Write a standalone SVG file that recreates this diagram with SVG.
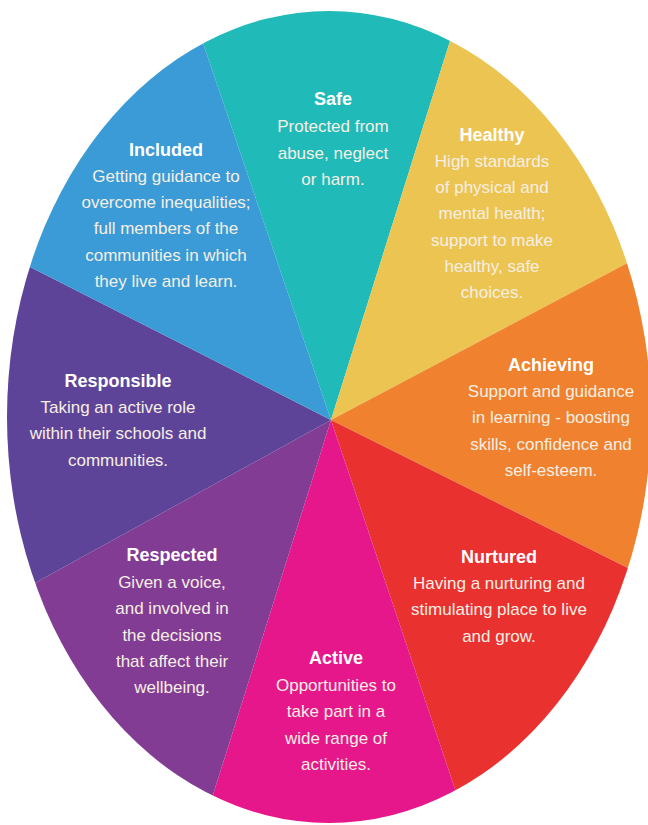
<svg xmlns="http://www.w3.org/2000/svg" width="648" height="825" viewBox="0 0 648 825">
<defs>
<clipPath id="wheel"><ellipse cx="329" cy="417" rx="322" ry="406"/></clipPath>
<style>
text{font-family:"Liberation Sans",Arial,sans-serif;text-anchor:middle}
.t{font-size:18px;font-weight:bold;fill:#ffffff}
.b{font-size:17px;fill:#f6efe4}
</style>
</defs>
<rect x="0" y="0" width="648" height="825" fill="#ffffff"/>
<g id="segments" clip-path="url(#wheel)">
<polygon id="seg-safe" points="331,420 75,-334 569,-338" fill="#20bab8"/>
<polygon id="seg-healthy" points="331,420 569,-338 943,96" fill="#ecc452"/>
<polygon id="seg-achieving" points="331,420 943,96 933,720" fill="#f0812e"/>
<polygon id="seg-nurtured" points="331,420 933,720 583,1170" fill="#e9312f"/>
<polygon id="seg-active" points="331,420 583,1170 93,1176" fill="#e6178a"/>
<polygon id="seg-respected" points="331,420 93,1176 -261,746" fill="#823c94"/>
<polygon id="seg-responsible" points="331,420 -261,746 -267,116" fill="#5e4499"/>
<polygon id="seg-included" points="331,420 -267,116 75,-334" fill="#3a9bd7"/>
</g>
<g id="safe">
<text class="t" x="333" y="105">Safe</text>
<text class="b" x="333" y="132">Protected from<tspan x="333" dy="26.5">abuse, neglect</tspan><tspan x="333" dy="26.5">or harm.</tspan></text>
</g>
<g id="included">
<text class="t" x="166" y="156">Included</text>
<text class="b" x="166" y="182">Getting guidance to<tspan x="166" dy="26.2">overcome inequalities;</tspan><tspan x="166" dy="26.2">full members of the</tspan><tspan x="166" dy="26.2">communities in which</tspan><tspan x="166" dy="26.2">they live and learn.</tspan></text>
</g>
<g id="healthy">
<text class="t" x="492" y="141">Healthy</text>
<text class="b" x="492" y="167">High standards<tspan x="492" dy="26.2">of physical and</tspan><tspan x="492" dy="26.2">mental health;</tspan><tspan x="492" dy="26.2">support to make</tspan><tspan x="492" dy="26.2">healthy, safe</tspan><tspan x="492" dy="26.2">choices.</tspan></text>
</g>
<g id="achieving">
<text class="t" x="551" y="371">Achieving</text>
<text class="b" x="551" y="397">Support and guidance<tspan x="551" dy="26.3">in learning - boosting</tspan><tspan x="551" dy="26.3">skills, confidence and</tspan><tspan x="551" dy="26.3">self-esteem.</tspan></text>
</g>
<g id="responsible">
<text class="t" x="118" y="387">Responsible</text>
<text class="b" x="118" y="413">Taking an active role<tspan x="118" dy="26.3">within their schools and</tspan><tspan x="118" dy="26.3">communities.</tspan></text>
</g>
<g id="nurtured">
<text class="t" x="499" y="563">Nurtured</text>
<text class="b" x="499" y="589">Having a nurturing and<tspan x="499" dy="26.3">stimulating place to live</tspan><tspan x="499" dy="26.3">and grow.</tspan></text>
</g>
<g id="respected">
<text class="t" x="172" y="561">Respected</text>
<text class="b" x="172" y="588">Given a voice,<tspan x="172" dy="26.3">and involved in</tspan><tspan x="172" dy="26.3">the decisions</tspan><tspan x="172" dy="26.3">that affect their</tspan><tspan x="172" dy="26.3">wellbeing.</tspan></text>
</g>
<g id="active">
<text class="t" x="336" y="664">Active</text>
<text class="b" x="336" y="691">Opportunities to<tspan x="336" dy="26.3">take part in a</tspan><tspan x="336" dy="26.3">wide range of</tspan><tspan x="336" dy="26.3">activities.</tspan></text>
</g>
</svg>
